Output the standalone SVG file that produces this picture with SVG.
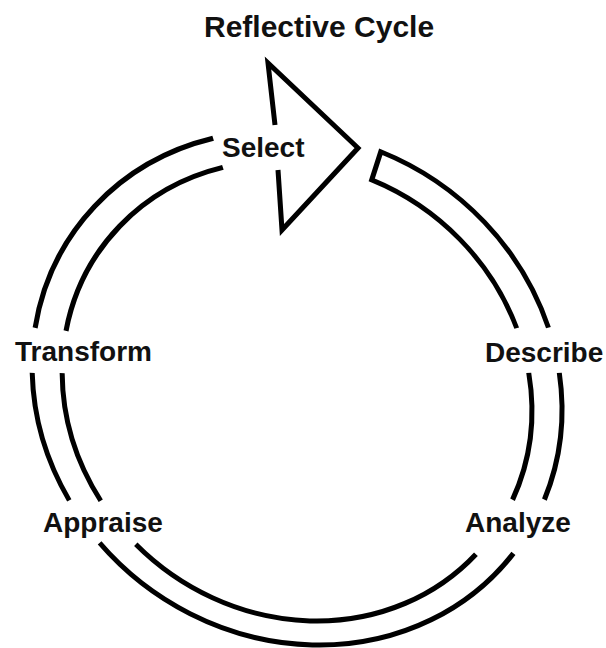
<svg xmlns="http://www.w3.org/2000/svg" width="606" height="648" viewBox="0 0 606 648">
  <style>
    .ring { fill: none; stroke: #000; stroke-width: 5; stroke-linecap: butt; stroke-linejoin: miter; stroke-miterlimit: 6; }
    .lbl { font-family: "Liberation Sans", Arial, Helvetica, sans-serif; font-weight: bold; font-size: 28px; fill: #111; }
    .title { font-size: 30px; }
  </style>
  <rect width="606" height="648" fill="#fff"/>
  <g id="connectors">
    <g transform="translate(297 388) skewX(4.915)">
      <!-- outer ring -->
      <path class="ring" d="M -62.4,-249.7 A 264 257 0 0 0 -256.7,-60.2"/>
      <path class="ring" d="M -263.5,-15.05 A 264 257 0 0 0 -237.4,112.4"/>
      <path class="ring" d="M -210.7,154.9 A 264 257 0 0 0 202.2,165.3"/>
      <path class="ring" d="M 237.8,111.7 A 264 257 0 0 0 263.6,-15.07"/>
      <!-- inner ring -->
      <path class="ring" d="M -55.16,-220.6 A 234 230 0 0 0 -226.06,-57.2"/>
      <path class="ring" d="M -233.56,-14.9 A 234 230 0 0 0 -205.96,112.7"/>
      <path class="ring" d="M -174.66,156.3 A 234 230 0 0 0 164.64,166.2"/>
      <path class="ring" d="M 205.94,111.8 A 234 230 0 0 0 233.04,-15.1"/>
      <!-- capped tail piece -->
      <path class="ring" d="M 256.6,-60.3 A 264 257 0 0 0 104.1,-236.2 L 92.64,-208.1 A 234 230 0 0 1 224.84,-59.9"/>
    </g>
    <!-- arrowhead -->
    <path class="ring" d="M 275,125 L 268,63 L 358,148 L 282,230 L 278,170"/>
  </g>
  <g id="title"><text class="lbl title" x="204" y="37">Reflective Cycle</text></g>
  <g id="node-select"><text class="lbl" x="222" y="157">Select</text></g>
  <g id="node-describe"><text class="lbl" x="485" y="362">Describe</text></g>
  <g id="node-analyze"><text class="lbl" x="465" y="532">Analyze</text></g>
  <g id="node-appraise"><text class="lbl" x="43" y="532">Appraise</text></g>
  <g id="node-transform"><text class="lbl" x="15" y="361">Transform</text></g>
</svg>
